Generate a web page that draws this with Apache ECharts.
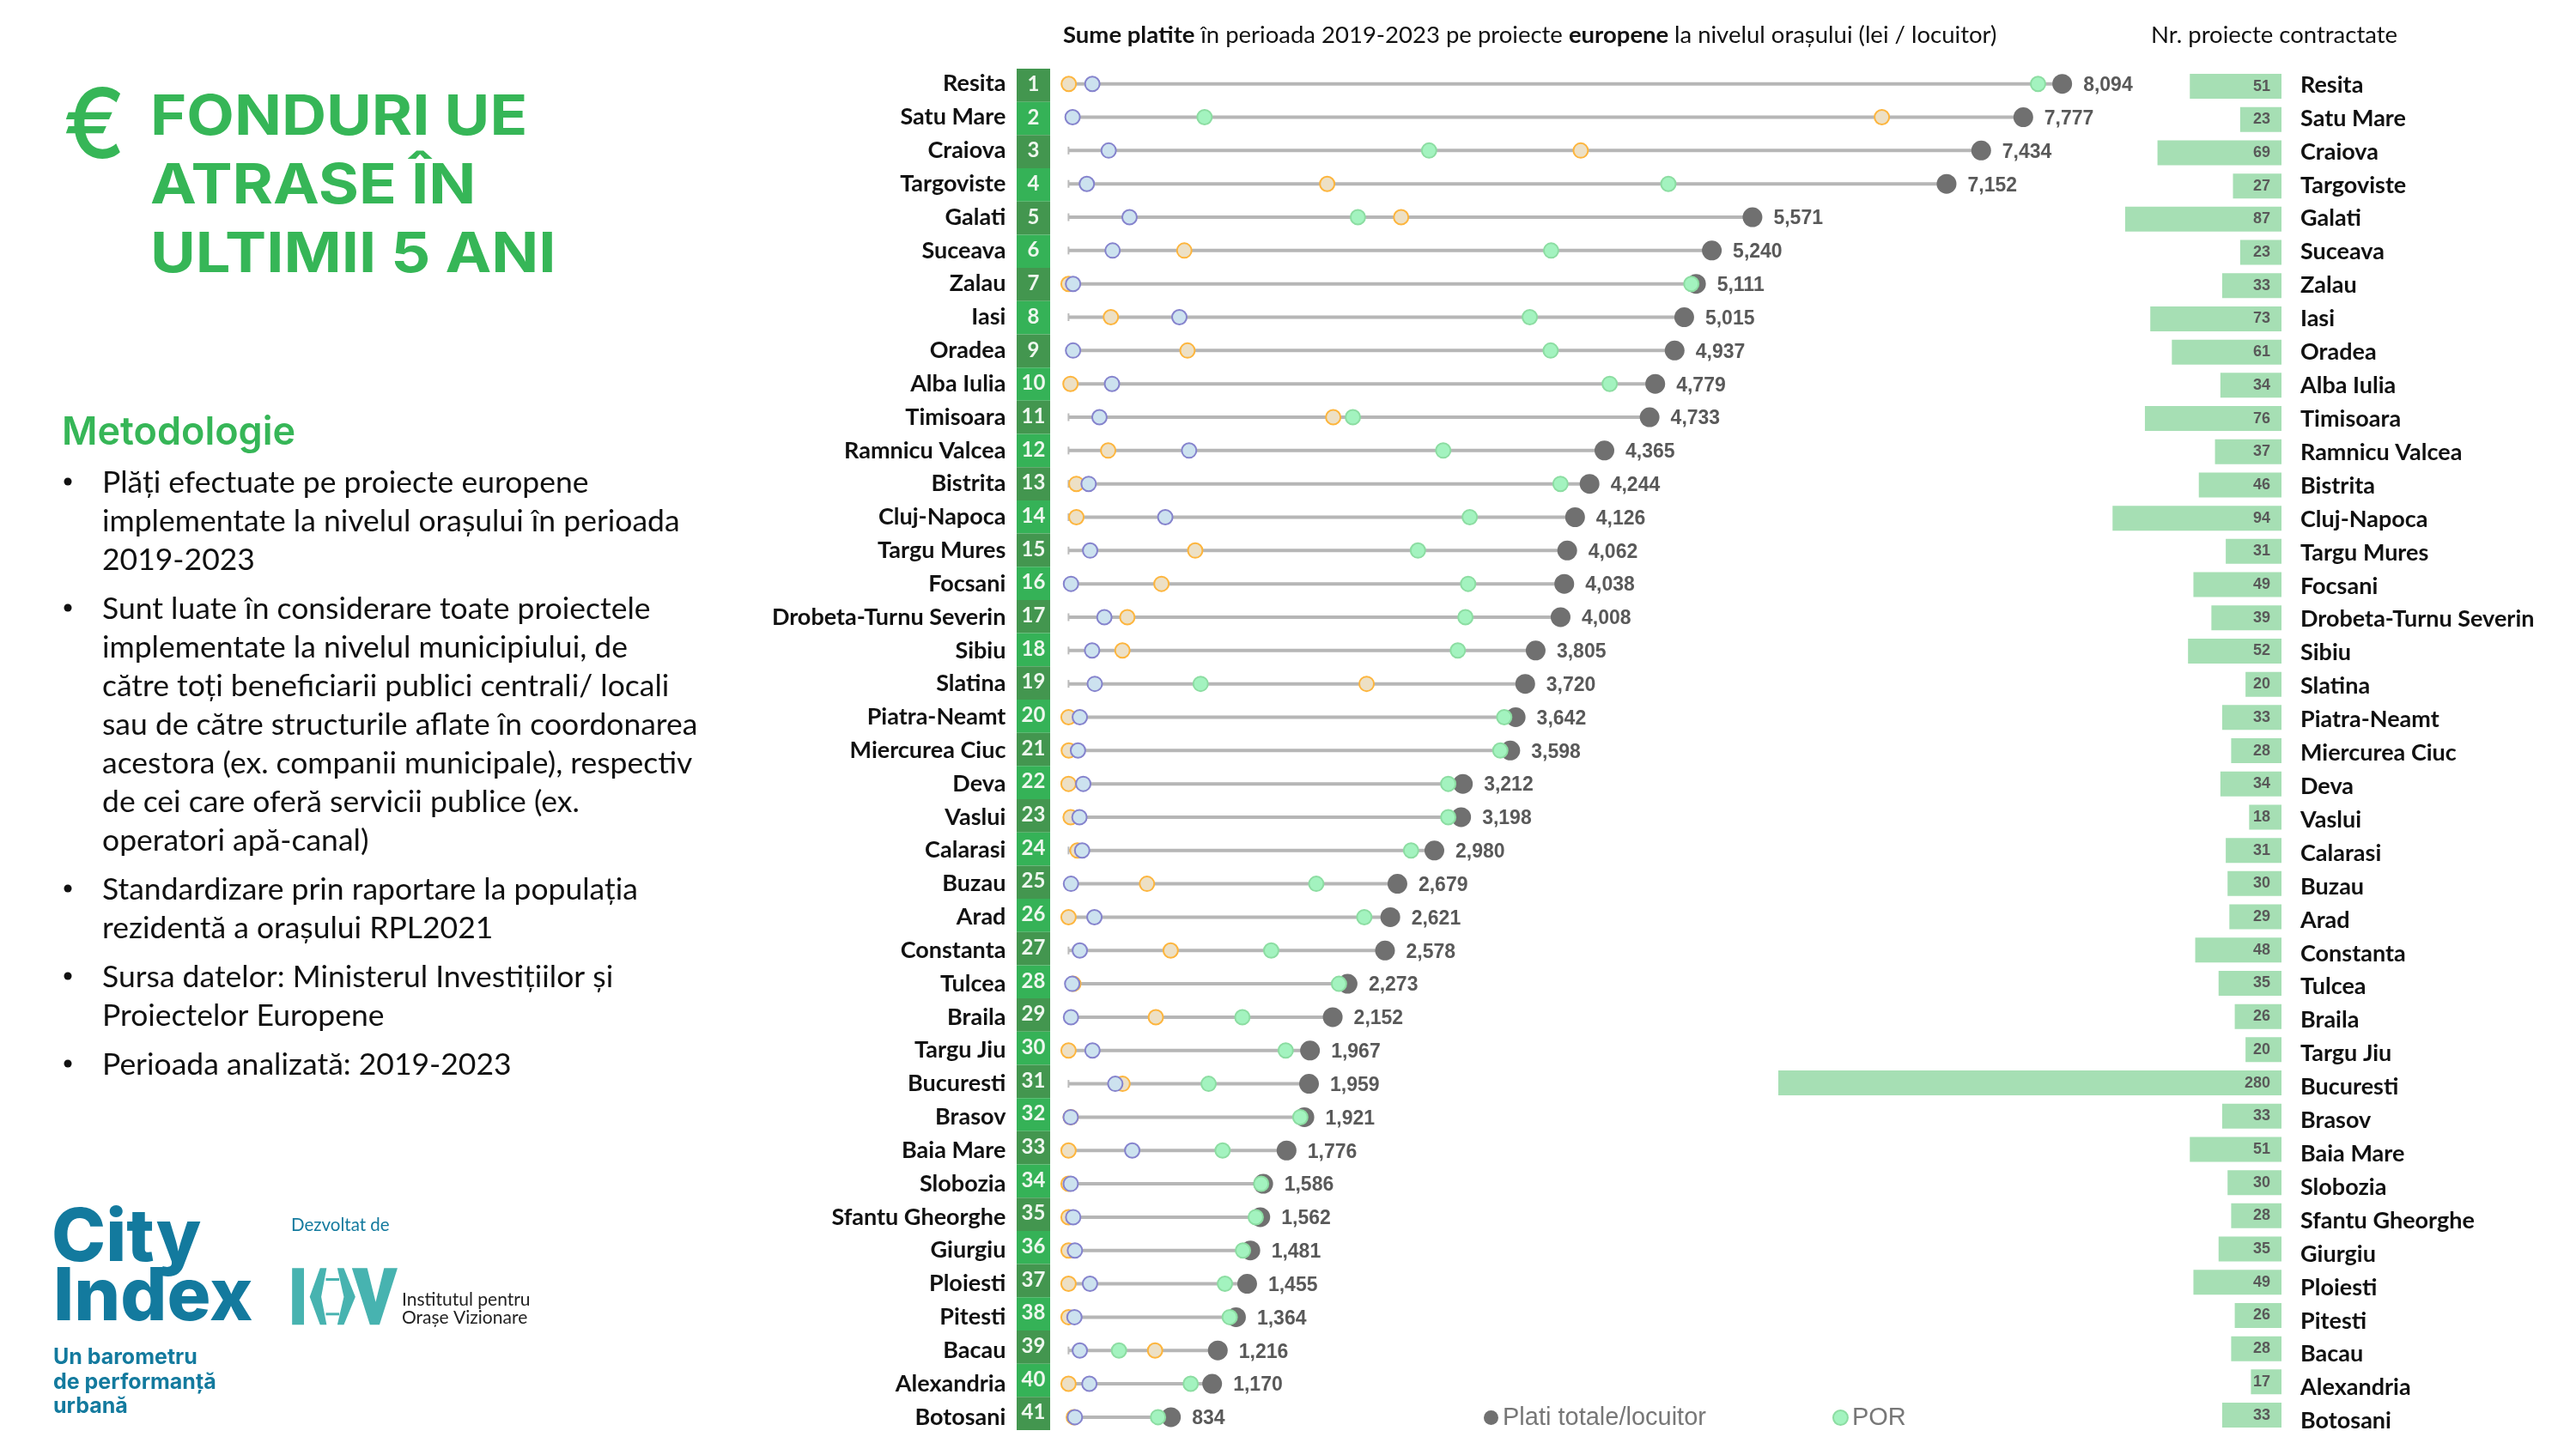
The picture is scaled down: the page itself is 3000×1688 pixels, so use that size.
<!DOCTYPE html>
<html>
<head>
<meta charset="utf-8">
<title>Fonduri UE</title>
<style>
html,body{margin:0;padding:0;background:#fff}
#chart{width:3000px;height:1688px}
</style>
<script src="https://cdn.jsdelivr.net/npm/echarts@6/dist/echarts.min.js"></script>
</head>
<body>
<div id="chart"></div>
<script>
var cities = ['Resita','Satu Mare','Craiova','Targoviste','Galati','Suceava','Zalau','Iasi','Oradea','Alba Iulia','Timisoara','Ramnicu Valcea','Bistrita','Cluj-Napoca','Targu Mures','Focsani','Drobeta-Turnu Severin','Sibiu','Slatina','Piatra-Neamt','Miercurea Ciuc','Deva','Vaslui','Calarasi','Buzau','Arad','Constanta','Tulcea','Braila','Targu Jiu','Bucuresti','Brasov','Baia Mare','Slobozia','Sfantu Gheorghe','Giurgiu','Ploiesti','Pitesti','Bacau','Alexandria','Botosani']
var ranks = cities.map(function(c,i){return String(i+1)})
var total = [8094,7777,7434,7152,5571,5240,5111,5015,4937,4779,4733,4365,4244,4126,4062,4038,4008,3805,3720,3642,3598,3212,3198,2980,2679,2621,2578,2273,2152,1967,1959,1921,1776,1586,1562,1481,1455,1364,1216,1170,834]
var por = [7897,1108,2937,4886,2357,3931,5073,3757,3927,4408,2316,3052,4007,3268,2846,3255,3233,3171,1076,3549,3517,3093,3093,2790,2018,2409,1651,2203,1416,1769,1141,1888,1255,1569,1525,1421,1274,1313,411,995,729]
var orange = [2,6625,4172,2107,2709,943,0,345,969,16,2156,323,64,64,1032,757,479,439,2428,0,2,0,17,73,639,0,832,39,711,0,440,18,0,0,0,0,0,0,705,0,43]
var blue = [194,33,327,149,497,359,37,903,37,354,252,982,164,788,176,20,292,192,214,92,77,120,89,111,20,211,92,30,20,195,381,18,519,18,38,52,175,48,92,170,52]
var projects = [51,23,69,27,87,23,33,73,61,34,76,37,46,94,31,49,39,52,20,33,28,34,18,31,30,29,48,35,26,20,280,33,51,30,28,35,49,26,28,17,33]
var starts = cities.map(function(){return 0})

var title_lines = ['FONDURI UE','ATRASE ÎN','ULTIMII 5 ANI']
var method_items = [
	['Plăți efectuate pe proiecte europene','implementate la nivelul orașului în perioada','2019-2023'],
	['Sunt luate în considerare toate proiectele','implementate la nivelul municipiului, de','către toți beneficiarii publici centrali/ locali','sau de către structurile aflate în coordonarea','acestora (ex. companii municipale), respectiv','de cei care oferă servicii publice (ex.','operatori apă-canal)'],
	['Standardizare prin raportare la populația','rezidentă a orașului RPL2021'],
	['Sursa datelor: Ministerul Investițiilor și','Proiectelor Europene'],
	['Perioada analizată: 2019-2023']
]

var GREEN = '#36B657', TEAL = '#137A9E', LOGO = '#47B3B0'
var CAL = 'Lato, "Noto Sans", sans-serif'
var ARIAL = '"Liberation Sans", Arial, sans-serif'

function pairs(arr){
	return arr.map(function(v,i){return [v,i]})
}
function dots(name,arr,size,z,fill,border){
	return {
		name: name,
		type: 'scatter',
		xAxisIndex: 0,
		yAxisIndex: 0,
		symbol: 'circle',
		symbolSize: size,
		z: z,
		silent: true,
		itemStyle: {color: fill, opacity: 1, borderColor: border, borderWidth: border ? 2 : 0},
		data: pairs(arr)
	}
}
function txt(x,y,text,size,weight,color,family,scale_x){
	var style = {x: x, y: y, text: text, fontSize: size, fontWeight: weight, fill: color, fontFamily: family, textVerticalAlign: 'middle', verticalAlign: 'middle'}
	var el = {type: 'text', style: style}
	if(scale_x){
		el.scaleX = scale_x
		el.originX = x
		el.originY = y
	}
	return el
}
// logo points are read in the 2.24x / 3x crop, so convert here
function lp(list){
	return list.map(function(p){return [p[0]/2.24, 1340+p[1]/3]})
}
function poly(list){
	return {type: 'polygon', shape: {points: lp(list)}, style: {fill: LOGO}}
}

var graphic = []
graphic.push(txt(74,150,'€',112,500,GREEN,'Inter, sans-serif',0.96))
title_lines.forEach(function(line,i){
	graphic.push(txt(175,137+i*80,line,65,700,GREEN,'Inter, sans-serif',1.11))
})
graphic.push(txt(72,504,'Metodologie',45,600,GREEN,'Inter, sans-serif'))
var line_y = 563
method_items.forEach(function(item){
	graphic.push({type: 'circle', shape: {cx: 79, cy: line_y-2, r: 4.5}, style: {fill: '#111'}})
	item.forEach(function(line){
		graphic.push(txt(119,line_y,line,35.5,400,'#111',CAL))
		line_y += 45
	})
	line_y += 12
})
graphic.push({
	type: 'text',
	style: {
		x: 1238, y: 41, verticalAlign: 'middle', textVerticalAlign: 'middle',
		text: '{b|Sume platite }{n|în perioada 2019-2023 pe proiecte }{b|europene }{n|la nivelul orașului (lei / locuitor)}',
		rich: {
			b: {fontSize: 27.5, fontWeight: 700, fill: '#111', fontFamily: CAL},
			n: {fontSize: 27.5, fontWeight: 400, fill: '#111', fontFamily: CAL}
		}
	}
})
graphic.push(txt(2505,41,'Nr. proiecte contractate',27.5,400,'#111',CAL))

graphic.push(txt(60,1443,'City',85,800,TEAL,'Inter, sans-serif'))
graphic.push(txt(62,1512,'Index',85,800,TEAL,'Inter, sans-serif'))
graphic.push(txt(62,1581,'Un barometru',25,700,TEAL,'Inter, sans-serif'))
graphic.push(txt(62,1610,'de performanță',25,700,TEAL,'Inter, sans-serif'))
graphic.push(txt(62,1638,'urbană',25,700,TEAL,'Inter, sans-serif'))
graphic.push(txt(339,1427,'Dezvoltat de',20.5,400,TEAL,CAL))
graphic.push(poly([[762,412],[793,412],[793,610],[762,610]]))
graphic.push(poly([[835,412],[852,412],[838,512],[852,610],[835,610],[808,512]]))
graphic.push(poly([[880,412],[897,412],[927,512],[897,610],[880,610],[897,512]]))
graphic.push(poly([[850,447],[885,447],[885,456],[850,456]]))
graphic.push(poly([[850,568],[885,568],[885,577],[850,577]]))
graphic.push(poly([[918,412],[958,412],[980,530],[1002,412],[1037,412],[990,610],[965,610]]))
graphic.push(txt(468,1514,'Institutul pentru',21,400,'#222',CAL))
graphic.push(txt(468,1535,'Orașe Vizionare',21,400,'#222',CAL))

var chart = echarts.init(document.getElementById('chart'))
var option = {
	animation: false,
	backgroundColor: '#fff',
	graphic: graphic,
	legend: {
		data: ['Plati totale/locuitor','POR'],
		left: 1723,
		top: 1632,
		icon: 'circle',
		itemWidth: 17,
		itemHeight: 17,
		itemGap: 147,
		selectedMode: false,
		textStyle: {fontSize: 29, color: '#777', fontFamily: ARIAL}
	},
	grid: [
		{left: 1244.4, top: 78.3, width: 1201, height: 1592},
		{left: 1184, top: 80, width: 39, height: 1586},
		{left: 2071, top: 81.2, width: 586, height: 1586.7},
		{left: 2670, top: 79.7, width: 1, height: 1595.3}
	],
	xAxis: [
		{gridIndex: 0, type: 'value', min: 0, max: 8400, show: false},
		{gridIndex: 1, type: 'value', min: 0, max: 1, show: false},
		{gridIndex: 2, type: 'value', min: 0, max: 280, inverse: true, show: false},
		{gridIndex: 3, type: 'value', min: 0, max: 1, show: false}
	],
	yAxis: [
		{
			gridIndex: 0, type: 'category', inverse: true, data: cities,
			axisLine: {show: false}, axisTick: {show: false},
			axisLabel: {margin: 73, fontSize: 27, fontWeight: 700, color: '#111', fontFamily: CAL, interval: 0}
		},
		{gridIndex: 1, type: 'category', inverse: true, data: ranks, show: false},
		{gridIndex: 2, type: 'category', inverse: true, data: cities, show: false},
		{
			gridIndex: 3, type: 'category', inverse: true, position: 'right', data: cities,
			axisLine: {show: false}, axisTick: {show: false},
			axisLabel: {margin: 8, fontSize: 27, fontWeight: 700, color: '#111', fontFamily: CAL, interval: 0}
		}
	],
	series: [
		{
			name: 'linie',
			type: 'bar',
			xAxisIndex: 0,
			yAxisIndex: 0,
			barWidth: 4,
			silent: true,
			z: 1,
			itemStyle: {color: '#B6B6B6'},
			data: total
		},
		{
			name: 'start',
			type: 'scatter',
			xAxisIndex: 0,
			yAxisIndex: 0,
			symbol: 'rect',
			symbolSize: [2,9],
			silent: true,
			z: 1,
			itemStyle: {color: '#BBBBBB', opacity: 1},
			data: pairs(starts)
		},
		Object.assign(dots('Plati totale/locuitor',total,23,2,'#707070'),{
			label: {
				show: true,
				position: 'right',
				distance: 13,
				offset: [0,2],
				fontSize: 23,
				fontWeight: 700,
				color: '#595959',
				fontFamily: ARIAL,
				formatter: function(p){return p.value[0].toLocaleString('en-US')}
			}
		}),
		dots('POR',por,17,3,'#A3F3BF','#8CDDA2'),
		dots('orange',orange,17,4,'#EDE0C5','#FDB53D'),
		dots('blue',blue,17,5,'#CCE2EF','#8583CD'),
		{
			name: 'rank',
			type: 'bar',
			xAxisIndex: 1,
			yAxisIndex: 1,
			barWidth: '100%',
			silent: true,
			itemStyle: {
				color: function(p){return p.dataIndex%2 === 0 ? '#43964F' : '#35B257'}
			},
			label: {
				show: true,
				position: 'inside',
				offset: [0,-1],
				fontSize: 24,
				fontWeight: 700,
				color: '#EEF7EE',
				fontFamily: CAL,
				formatter: '{b}'
			},
			data: ranks.map(function(){return 1})
		},
		{
			name: 'Nr. proiecte',
			type: 'bar',
			xAxisIndex: 2,
			yAxisIndex: 2,
			barWidth: 29,
			silent: true,
			itemStyle: {color: '#A6DFB4'},
			label: {
				show: true,
				position: 'insideRight',
				distance: 13,
				fontSize: 18,
				fontWeight: 700,
				color: '#595959',
				fontFamily: ARIAL
			},
			data: projects
		}
	]
}
chart.setOption(option)
</script>
</body>
</html>
